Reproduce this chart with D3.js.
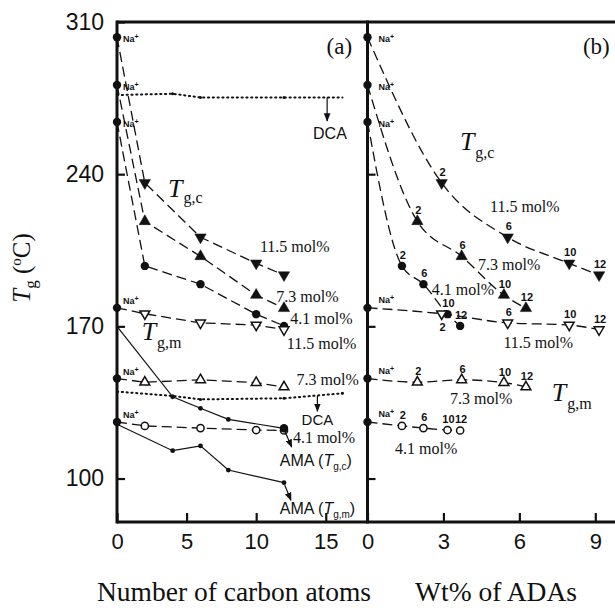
<!DOCTYPE html>
<html><head><meta charset="utf-8">
<script src="https://cdn.jsdelivr.net/npm/d3@7"></script>
<style>body{margin:0;background:#fff}svg{display:block}</style>
</head><body>
<svg id="c" width="615" height="608"></svg>
<script>
// ---- data ----
const yTicks = [100, 170, 240, 310];
const xTicksA = [0, 5, 10, 15];
const xTicksB = [0, 3, 6, 9];
const carbon = [2, 6, 10, 12];            // carbon atoms of ADAs
const naTgc = [303, 281, 264];            // Na+ ionomer Tg,c : 11.5, 7.3, 4.1 mol%
const naTgm = [178.5, 146, 126];          // Na+ ionomer Tg,m : 11.5, 7.3, 4.1 mol%
const tgc115 = [236, 211, 199, 193.6];
const tgc73 = [218.3, 202.2, 184.4, 178.3];
const tgc41 = [197.8, 189.4, 175.6, 170.2];
const tgm115 = [175.8, 171.6, 170.6, 168.5];
const tgm73 = [144.3, 145.4, 144.1, 142.1];
const tgm41 = [124.2, 123.2, 122.3, 122.1];
const wt115 = [2.93, 5.54, 7.97, 9.15];   // wt% of ADAs
const wt73 = [1.97, 3.72, 5.39, 6.26];
const wt41 = [1.36, 2.21, 3.16, 3.66];
const dcaX = [0, 4, 6, 12, 16.2];
const dcaTgc = [276.4, 277, 275.3, 275.3, 275.3];
const dcaTgm = [140, 138, 136.4, 136.9, 139.2];
const amaX = [0, 4, 6, 8, 12];
const amaTgc = [170, 137.6, 132.3, 127.2, 123.1];
const amaTgm = [125, 112.8, 115, 103.9, 98.1];

// ---- setup ----
const SERIF = "'Liberation Serif','Times New Roman',serif";
const SANS = "'Liberation Sans',Arial,sans-serif";
const svg = d3.select('#c');
const ya = d3.scaleLinear().domain([80, 310]).range([522, 22]);
const xa = d3.scaleLinear().domain([0, 18]).range([117, 367.5]);
const xb = d3.scaleLinear().domain([0, 9.7]).range([367.5, 613]);

const defs = svg.append('defs');
defs.append('marker').attr('id', 'arr').attr('viewBox', '0 0 10 10').attr('refX', 9).attr('refY', 5)
  .attr('markerWidth', 7).attr('markerHeight', 7).attr('orient', 'auto-start-reverse')
  .append('path').attr('d', 'M0,1 L10,5 L0,9 Z').attr('fill', '#111');

const zip = (xs, ys) => xs.map((x, i) => [x, ys[i]]);
const gA = svg.append('g');
const gB = svg.append('g');

function drawLine(g, xs, pts, dash, curve, w) {
  const line = d3.line().x(d => xs(d[0])).y(d => ya(d[1])).curve(curve || d3.curveLinear);
  g.append('path').attr('d', line(pts)).attr('fill', 'none').attr('stroke', '#111')
    .attr('stroke-width', w || 1.3).attr('stroke-dasharray', dash || null)
    .attr('stroke-linecap', dash === '1.2,3.6' ? 'round' : 'butt');
}
function drawMarkers(g, xs, pts, type) {
  pts.forEach(([x, y]) => {
    const px = xs(x), py = ya(y);
    if (type === 'circ' || type === 'ocirc' || type === 'dot' || type === 'sdot' || type === 'bdot') {
      const r = {circ: 4.2, ocirc: 3.6, dot: 2.4, sdot: 1.5, bdot: 4.2}[type];
      g.append('circle').attr('cx', px).attr('cy', py).attr('r', r)
        .attr('fill', type === 'ocirc' ? '#fff' : '#111').attr('stroke', '#111')
        .attr('stroke-width', type === 'ocirc' ? 1.5 : 0);
    } else {
      const open = type[0] === 'o';
      const down = type.indexOf('d') >= 0;
      g.append('path').attr('d', d3.symbol(d3.symbolTriangle, open ? 42 : 56)())
        .attr('transform', `translate(${px},${py}) rotate(${down ? 180 : 0})`)
        .attr('fill', open ? '#fff' : '#111').attr('stroke', '#111').attr('stroke-width', open ? 1.5 : 0.5);
    }
  });
}
function naLabel(g, px, py) {
  const t = g.append('text').attr('x', px).attr('y', py).style('font-family', SANS)
    .style('font-size', '9px').style('font-weight', 'bold').attr('fill', '#111');
  t.append('tspan').text('Na');
  t.append('tspan').attr('dy', -3).style('font-size', '7px').text('+');
}
function txt(g, px, py, s, size, fam, anchor) {
  return g.append('text').attr('x', px).attr('y', py).style('font-family', fam || SERIF)
    .style('font-size', (size || 16) + 'px').attr('text-anchor', anchor || 'start').attr('fill', '#111').text(s);
}
function tSym(g, px, py, sub, size, subSize, subDy) {
  const t = g.append('text').attr('x', px).attr('y', py).style('font-family', SERIF)
    .style('font-size', size + 'px').attr('fill', '#111');
  t.append('tspan').style('font-style', 'italic').text('T');
  t.append('tspan').attr('dx', 1).attr('dy', subDy).style('font-size', subSize + 'px').text(sub);
}
function ama(g, px, py, sub) {
  const t = g.append('text').attr('x', px).attr('y', py).style('font-family', SANS)
    .style('font-size', '16px').attr('fill', '#111');
  t.append('tspan').text('AMA (');
  t.append('tspan').style('font-style', 'italic').text('T');
  t.append('tspan').attr('dy', 4).style('font-size', '10px').text(sub);
  t.append('tspan').attr('dy', -4).text(')');
}
function arrow(g, x1, y1, x2, y2) {
  g.append('line').attr('x1', x1).attr('y1', y1).attr('x2', x2).attr('y2', y2)
    .attr('stroke', '#111').attr('stroke-width', 1.2).attr('marker-end', 'url(#arr)');
}

const DASH = '10,5';
const DOT = '1.2,3.6';

// ---- Panel (a) ----
const tgcSets = [[tgc115, 'dtri', 0], [tgc73, 'utri', 1], [tgc41, 'circ', 2]];
const tgmSets = [[tgm115, 'odtri', 0], [tgm73, 'outri', 1], [tgm41, 'ocirc', 2]];

drawLine(gA, xa, zip(dcaX, dcaTgc), DOT, null, 2);
drawLine(gA, xa, zip(dcaX, dcaTgm), DOT, null, 2);
drawMarkers(gA, xa, zip(dcaX, dcaTgc).slice(1, 4), 'sdot');
drawMarkers(gA, xa, zip(dcaX, dcaTgm).slice(1, 5), 'sdot');
tgcSets.forEach(([ys, m, i]) => drawLine(gA, xa, [[0, naTgc[i]]].concat(zip(carbon, ys)), DASH));
tgmSets.forEach(([ys, m, i]) => drawLine(gA, xa, [[0, naTgm[i]]].concat(zip(carbon, ys)), DASH));
drawLine(gA, xa, zip(amaX, amaTgc), null, null, 1.2);
drawLine(gA, xa, zip(amaX, amaTgm), null, null, 1.2);
tgcSets.forEach(([ys, m]) => drawMarkers(gA, xa, zip(carbon, ys), m));
tgmSets.forEach(([ys, m]) => drawMarkers(gA, xa, zip(carbon, ys), m));
drawMarkers(gA, xa, zip(amaX, amaTgc).slice(1, 4), 'dot');
drawMarkers(gA, xa, zip(amaX, amaTgc).slice(4), 'bdot');
drawMarkers(gA, xa, zip(amaX, amaTgm).slice(1), 'dot');
naTgc.concat(naTgm).forEach(v => drawMarkers(gA, xa, [[0, v]], 'circ'));
naTgc.forEach(v => naLabel(gA, xa(0) + 6, ya(v) + 5));
naTgm.forEach(v => naLabel(gA, xa(0) + 6, ya(v) - 4));

// arrows (a)
arrow(gA, xa(15.1), ya(275.3), xa(15.1), ya(264.5));
arrow(gA, xa(14.4), ya(138), xa(14.4), ya(131));
arrow(gA, xa(12.05), ya(122), xa(12.55), ya(114.5));
arrow(gA, xa(12.05), ya(97), xa(12.5), ya(90));

// labels (a)
txt(gA, xa(15.06), ya(295.3), '(a)', 23);
txt(gA, xa(15.3), ya(256.2), 'DCA', 16, SANS, 'middle');
tSym(gA, xa(3.66), ya(229.5), 'g,c', 26, 16, 6);
txt(gA, xa(10.27), ya(204.2), '11.5 mol%', 16);
txt(gA, xa(11.45), ya(181.2), '7.3 mol%', 16);
txt(gA, xa(12.45), ya(171.3), '4.1 mol%', 16);
txt(gA, xa(12.2), ya(159.8), '11.5 mol%', 16);
tSym(gA, xa(1.77), ya(163.7), 'g,m', 26, 16, 8);
txt(gA, xa(12.9), ya(142.9), '7.3 mol%', 16);
txt(gA, xa(14.4), ya(124.5), 'DCA', 15, SANS, 'middle');
txt(gA, xa(12.64), ya(116.2), '4.1 mol%', 16);
ama(gA, xa(11.7), ya(105.8), 'g,c');
ama(gA, xa(11.7), ya(83.9), 'g,m');

// ---- Panel (b) ----
const wtSets = [wt115, wt73, wt41];
tgcSets.forEach(([ys, m, i]) => drawLine(gB, xb, [[0, naTgc[i]]].concat(zip(wtSets[i], ys)), DASH, d3.curveMonotoneX));
tgmSets.forEach(([ys, m, i]) => drawLine(gB, xb, [[0, naTgm[i]]].concat(zip(wtSets[i], ys)), DASH, d3.curveMonotoneX));
tgcSets.forEach(([ys, m, i]) => drawMarkers(gB, xb, zip(wtSets[i], ys), m));
tgmSets.forEach(([ys, m, i]) => drawMarkers(gB, xb, zip(wtSets[i], ys), m));
naTgc.concat(naTgm).forEach(v => drawMarkers(gB, xb, [[0, v]], 'circ'));
naTgc.forEach(v => naLabel(gB, xb(0) + 11, ya(v) + 5));
naTgm.forEach(v => naLabel(gB, xb(0) + 11, ya(v) - 5));

// carbon-number labels on panel (b) points
function numLabels(ys, i, below) {
  wtSets[i].forEach((w, k) => {
    const dn = below && below.includes(k);
    txt(gB, xb(w) + 1, ya(ys[k]) + (dn ? 17 : -7), String(carbon[k]), 11, SANS, 'middle')
      .style('font-weight', 'bold');
  });
}
numLabels(tgc115, 0); numLabels(tgc73, 1); numLabels(tgc41, 2);
numLabels(tgm115, 0, [0]); numLabels(tgm73, 1); numLabels(tgm41, 2);

// labels (b)
txt(gB, xb(8.51), ya(295.3), '(b)', 23);
tSym(gB, xb(3.65), ya(251.1), 'g,c', 26, 16, 8);
txt(gB, xb(4.84), ya(222.8), '11.5 mol%', 16);
txt(gB, xb(4.37), ya(195.7), '7.3 mol%', 16);
txt(gB, xb(2.54), ya(184.2), '4.1 mol%', 16);
txt(gB, xb(5.37), ya(160), '11.5 mol%', 16);
txt(gB, xb(3.26), ya(134.5), '7.3 mol%', 16);
tSym(gB, xb(7.28), ya(135.7), 'g,m', 26, 16, 8);
txt(gB, xb(1.09), ya(111.5), '4.1 mol%', 16);

// ---- axes & frame ----
const fr = svg.append('g').attr('stroke', '#111').attr('stroke-width', 3).attr('fill', 'none');
fr.append('line').attr('x1', xa(0)).attr('x2', xb(9.7) + 2).attr('y1', ya(310)).attr('y2', ya(310));
fr.append('line').attr('x1', xa(0)).attr('x2', xb(9.7) + 2).attr('y1', ya(80)).attr('y2', ya(80));
fr.append('line').attr('x1', xa(0)).attr('x2', xa(0)).attr('y1', ya(310) - 1.5).attr('y2', ya(80) + 1.5);
fr.append('line').attr('x1', xb(0)).attr('x2', xb(0)).attr('y1', ya(310) - 1.5).attr('y2', ya(80) + 1.5);

function styleAxis(g, size) {
  g.select('.domain').remove();
  g.selectAll('.tick line').attr('stroke', '#111').attr('stroke-width', 2.2);
  g.selectAll('.tick text').style('font-family', SANS).style('font-size', size + 'px').attr('fill', '#111');
}
svg.append('g').attr('transform', `translate(${xa(0)},0)`)
  .call(d3.axisLeft(ya).tickValues(yTicks).tickSizeInner(-8).tickSizeOuter(0).tickPadding(13))
  .call(g => styleAxis(g, 23));
svg.append('g').attr('transform', `translate(${xb(0)},0)`)
  .call(d3.axisLeft(ya).tickValues(yTicks.slice(0, 3)).tickSizeInner(-8).tickSizeOuter(0).tickFormat(''))
  .call(g => styleAxis(g, 23));
svg.append('g').attr('transform', `translate(0,${ya(80)})`)
  .call(d3.axisBottom(xa).tickValues(xTicksA).tickSizeInner(-9).tickSizeOuter(0).tickPadding(11))
  .call(g => styleAxis(g, 22));
svg.append('g').attr('transform', `translate(0,${ya(80)})`)
  .call(d3.axisBottom(xb).tickValues(xTicksB).tickSizeInner(-9).tickSizeOuter(0).tickPadding(11))
  .call(g => styleAxis(g, 22));

// axis titles
txt(svg, 234, 601, 'Number of carbon atoms', 27.5, SERIF, 'middle');
txt(svg, 496, 601, 'Wt% of ADAs', 27.5, SERIF, 'middle');
const yt = svg.append('text').attr('transform', 'translate(30,268) rotate(-90)').attr('text-anchor', 'middle')
  .style('font-family', SERIF).style('font-size', '25px').attr('fill', '#111');
yt.append('tspan').style('font-style', 'italic').text('T');
yt.append('tspan').attr('dy', 6).style('font-size', '17px').text('g');
yt.append('tspan').attr('dy', -6).text(' (');
yt.append('tspan').attr('dy', -9).style('font-size', '15px').text('o');
yt.append('tspan').attr('dy', 9).text('C)');
</script>
</body></html>
